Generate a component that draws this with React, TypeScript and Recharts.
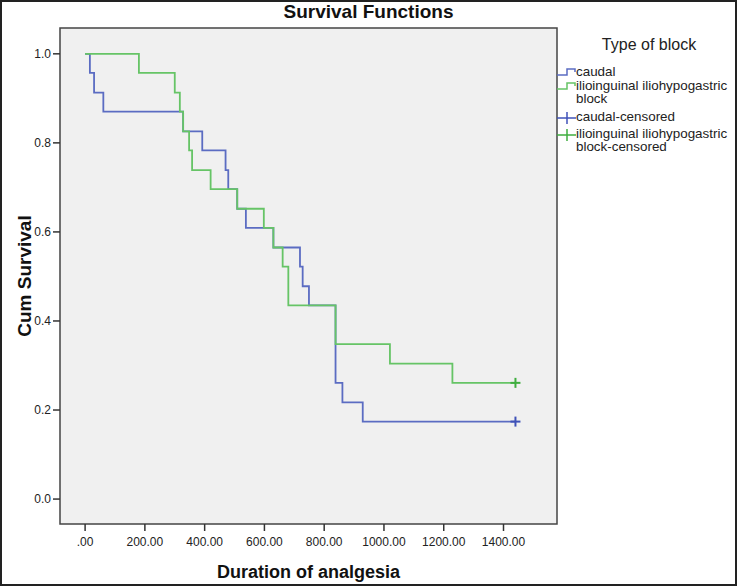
import {
  ComposedChart,
  Line,
  Scatter,
  XAxis,
  YAxis,
  CartesianGrid,
  ReferenceArea,
} from 'recharts'

// Kaplan-Meier estimates (n = 23 per group)
const caudalTimes = [0, 16, 30, 61, 328, 392, 470, 479, 509, 538, 630, 719, 728, 749, 838, 861, 929, 1440]
const caudalSurvival = [1.0, 0.957, 0.913, 0.87, 0.826, 0.783, 0.739, 0.696, 0.652, 0.609, 0.565, 0.522, 0.478, 0.435, 0.261, 0.217, 0.174, 0.174]

const blockTimes = [0, 180, 300, 317, 328, 348, 358, 420, 509, 598, 630, 661, 680, 838, 1020, 1229, 1440]
const blockSurvival = [1.0, 0.957, 0.913, 0.87, 0.826, 0.783, 0.739, 0.696, 0.652, 0.609, 0.565, 0.522, 0.435, 0.348, 0.304, 0.261, 0.261]

const caudalCensored = [1440]
const blockCensored = [1440]

const xTicks = [0, 200, 400, 600, 800, 1000, 1200, 1400]
const yTicks = [0, 0.2, 0.4, 0.6, 0.8, 1.0]

const legendItems = [
  { label: 'caudal', color: '#5b6cc2', kind: 'step' },
  { label: 'ilioinguinal iliohypogastric block', color: '#66c466', kind: 'step' },
  { label: 'caudal-censored', color: '#3f52b8', kind: 'cross' },
  { label: 'ilioinguinal iliohypogastric block-censored', color: '#3fae3f', kind: 'cross' },
]
const legendGaps = [1, 5, 3, 0]

const BLUE = '#5b6cc2'
const GREEN = '#66c466'
const FONT = '"Liberation Sans", Arial, sans-serif'

const toPoints = (times: number[], surv: number[]) =>
  times.map((t, i) => ({ t, s: surv[i] }))

const censorPoints = (times: number[], allTimes: number[], surv: number[]) =>
  times.map((t) => ({ t, s: surv[allTimes.indexOf(t)] }))

const caudalData = toPoints(caudalTimes, caudalSurvival)
const blockData = toPoints(blockTimes, blockSurvival)
const caudalCens = censorPoints(caudalCensored, caudalTimes, caudalSurvival)
const blockCens = censorPoints(blockCensored, blockTimes, blockSurvival)

function crossShape(color: string) {
  return (props: any) => {
    const { cx, cy } = props
    return (
      <g>
        <line x1={cx - 5} y1={cy} x2={cx + 5} y2={cy} stroke={color} strokeWidth={2} />
        <line x1={cx} y1={cy - 5} x2={cx} y2={cy + 5} stroke={color} strokeWidth={2} />
      </g>
    )
  }
}

function LegendIcon({ kind, color }: { kind: string; color: string }) {
  if (kind === 'step') {
    return (
      <svg width={19} height={10} style={{ display: 'block' }}>
        <polyline points="0,8 10,8 10,2 18,2 18,5" fill="none" stroke={color} strokeWidth={1.5} />
      </svg>
    )
  }
  return (
    <svg width={19} height={12} style={{ display: 'block' }}>
      <line x1={0} y1={6} x2={19} y2={6} stroke={color} strokeWidth={1.5} />
      <line x1={10} y1={0} x2={10} y2={12} stroke={color} strokeWidth={1.5} />
    </svg>
  )
}

function BlockLegend() {
  return (
    <div
      style={{
        position: 'absolute',
        left: 557,
        top: 36,
        width: 180,
        fontFamily: FONT,
        color: '#222',
      }}
    >
      <div style={{ fontSize: 16, lineHeight: '18px', textAlign: 'center', marginBottom: 11, paddingLeft: 4 }}>
        Type of block
      </div>
      {legendItems.map((item, i) => (
        <div key={item.label} style={{ display: 'flex', alignItems: 'flex-start', marginBottom: legendGaps[i] }}>
          <div style={{ width: 19, marginTop: 2 }}>
            <LegendIcon kind={item.kind} color={item.color} />
          </div>
          <div style={{ fontSize: 13.4, lineHeight: '13px', width: 160 }}>{item.label}</div>
        </div>
      ))}
    </div>
  )
}

export default function App() {
  return (
    <div style={{ position: 'absolute', left: 0, top: 0, width: 737, height: 586, background: '#fff' }}>
      <div
        style={{
          position: 'absolute',
          left: 0,
          top: 1,
          width: 737,
          textAlign: 'center',
          fontFamily: FONT,
          fontWeight: 'bold',
          fontSize: 19,
          color: '#111',
        }}
      >
        Survival Functions
      </div>
      <ComposedChart
        width={737}
        height={586}
        margin={{ top: 28, right: 180, bottom: 0, left: 0 }}
        style={{ position: 'absolute', left: 0, top: 0 }}
      >
        <CartesianGrid horizontal={false} vertical={false} fill="#f0f0f0" stroke="none" />
        <XAxis
          dataKey="t"
          type="number"
          domain={[-84, 1579]}
          ticks={xTicks}
          allowDataOverflow
          height={62}
          axisLine={false}
          tickSize={7}
          tickMargin={6}
          tickLine={{ stroke: '#333', strokeWidth: 1.5 }}
          tick={{ fill: '#222', fontSize: 12, fontFamily: FONT }}
          tickFormatter={(v: number) => (v === 0 ? '.00' : v.toFixed(2))}
          label={{
            value: 'Duration of analgesia',
            position: 'insideBottom',
            offset: 8,
            fill: '#111',
            fontSize: 18,
            fontWeight: 'bold',
            fontFamily: FONT,
          }}
        />
        <YAxis
          type="number"
          domain={[-0.056, 1.058]}
          ticks={yTicks}
          allowDataOverflow
          width={60}
          axisLine={false}
          tickSize={7}
          tickMargin={2}
          tickLine={{ stroke: '#333', strokeWidth: 1.5 }}
          tick={{ fill: '#222', fontSize: 12, fontFamily: FONT }}
          tickFormatter={(v: number) => v.toFixed(1)}
          label={{
            value: 'Cum Survival',
            angle: -90,
            position: 'insideLeft',
            offset: 24,
            style: { textAnchor: 'middle' },
            fill: '#111',
            fontSize: 19,
            fontWeight: 'bold',
            fontFamily: FONT,
          }}
        />
        <ReferenceArea
          x1={-84}
          x2={1579}
          y1={-0.056}
          y2={1.058}
          fill="none"
          stroke="#444"
          strokeWidth={1.5}
          ifOverflow="visible"
        />
        <Line
          data={caudalData}
          dataKey="s"
          type="stepAfter"
          stroke={BLUE}
          strokeWidth={1.8}
          dot={false}
          isAnimationActive={false}
        />
        <Line
          data={blockData}
          dataKey="s"
          type="stepAfter"
          stroke={GREEN}
          strokeWidth={1.8}
          dot={false}
          isAnimationActive={false}
        />
        <Scatter data={caudalCens} dataKey="s" shape={crossShape('#3f52b8')} isAnimationActive={false} />
        <Scatter data={blockCens} dataKey="s" shape={crossShape('#3fae3f')} isAnimationActive={false} />
      </ComposedChart>
      <BlockLegend />
      <div
        style={{
          position: 'absolute',
          left: 0,
          top: 0,
          width: 737,
          height: 586,
          boxSizing: 'border-box',
          border: '2px solid #222',
          pointerEvents: 'none',
        }}
      />
    </div>
  )
}
